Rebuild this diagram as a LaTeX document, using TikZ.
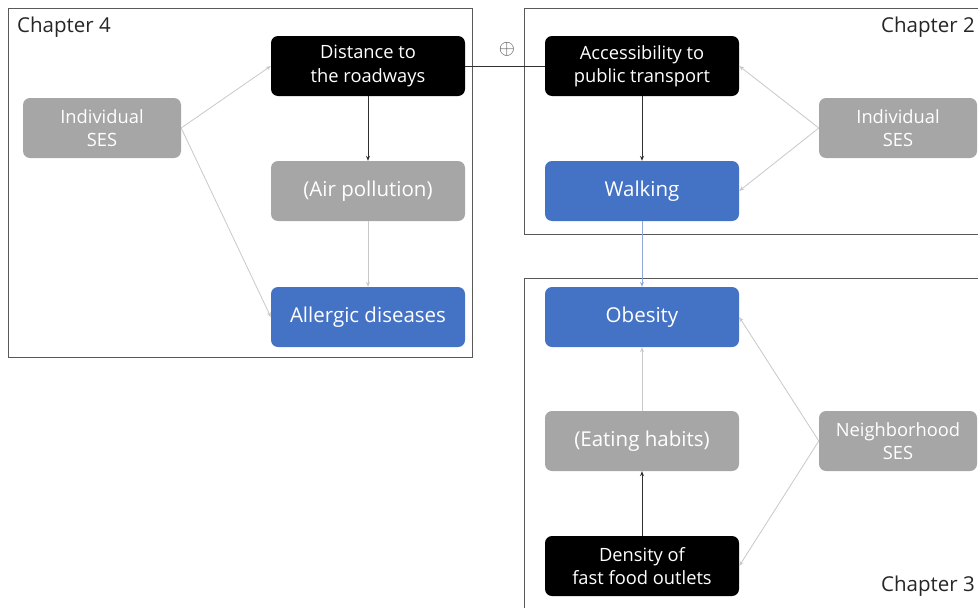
\documentclass[tikz,border=0pt]{standalone}
\usepackage{fontspec}
\setmainfont{Open Sans}
\usetikzlibrary{arrows.meta}
\definecolor{boxgray}{HTML}{A6A6A6}
\definecolor{boxblue}{HTML}{4472C4}
\definecolor{linegray}{HTML}{C8C8C8}
\definecolor{linedark}{HTML}{303030}
\definecolor{lineblue}{HTML}{8EA9D8}
\tikzset{
  box/.style={rounded corners=7pt, minimum width=194pt, minimum height=60pt, inner sep=0pt, align=center, text=white, font=\fontsize{18.3}{23.5}\selectfont},
  sbox/.style={box, minimum width=158pt},
  graybox/.style={fill=boxgray},
  onefont/.style={font=\fontsize{20.5}{24}\selectfont},
  bluebox/.style={fill=boxblue, onefont},
  blackbox/.style={fill=black},
  frame/.style={draw=black!65, line width=0.7pt},
  lite/.style={draw=linegray, line width=0.8pt, -{Stealth[length=5pt,width=4pt]}},
  dark/.style={draw=linedark, line width=0.8pt, -{Stealth[length=5pt,width=4pt]}},
  chap/.style={font=\fontsize{20.5}{24}\selectfont, text=black!85, inner sep=0pt}
}
\begin{document}
\begin{tikzpicture}[x=1pt,y=-1pt]
\useasboundingbox (0,0) rectangle (978,608);
% frames
\draw[frame] (8,8) rectangle (472,357);
\draw[frame] (524,8) rectangle (984,234);
\draw[frame] (524,278) rectangle (984,614);
\node[chap, anchor=north west] (c4) at (17,17) {Chapter 4};
\node[chap, anchor=north east] (c2) at (975,17) {Chapter 2};
\node[chap, anchor=south east] (c3) at (975,597) {Chapter 3};
% nodes chapter 4
\node[sbox, graybox] (ises1) at (102,128) {Individual\\SES};
\node[box, blackbox] (dist) at (368,66) {Distance to\\the roadways};
\node[box, graybox, onefont] (air) at (368,191) {(Air pollution)};
\node[box, bluebox] (allg) at (368,317) {Allergic diseases};
% chapter 2
\node[box, blackbox] (acc) at (642,66) {Accessibility to\\public transport};
\node[box, bluebox] (walk) at (642,191) {Walking};
\node[sbox, graybox] (ises2) at (898,128) {Individual\\SES};
% chapter 3
\node[box, bluebox] (obes) at (642,317) {Obesity};
\node[box, graybox, onefont] (eat) at (642,441) {(Eating habits)};
\node[sbox, graybox] (nses) at (898,441) {Neighborhood\\SES};
\node[box, blackbox] (dens) at (642,566) {Density of\\fast food outlets};
% connectors
\draw[lite] (ises1.east) -- (dist.west);
\draw[lite] (ises1.east) -- (allg.west);
\draw[dark] (dist) -- (air);
\draw[lite] (air) -- (allg);
\draw[draw=linedark, line width=0.8pt] (dist.east) -- node[above=9pt, xshift=2pt, font=\fontsize{20}{20}\selectfont, text=black!70, inner sep=0pt] (plus) {$\oplus$} (acc.west);
\draw[dark] (acc) -- (walk);
\draw[lite] (ises2.west) -- (acc.east);
\draw[lite] (ises2.west) -- (walk.east);
\draw[draw=lineblue, line width=1pt, -{Stealth[length=5pt,width=4pt]}] (walk) -- (obes);
\draw[lite] (eat) -- (obes);
\draw[dark] (dens) -- (eat);
\draw[lite] (nses.west) -- (obes.east);
\draw[lite] (nses.west) -- (dens.east);
\end{tikzpicture}
\end{document}
